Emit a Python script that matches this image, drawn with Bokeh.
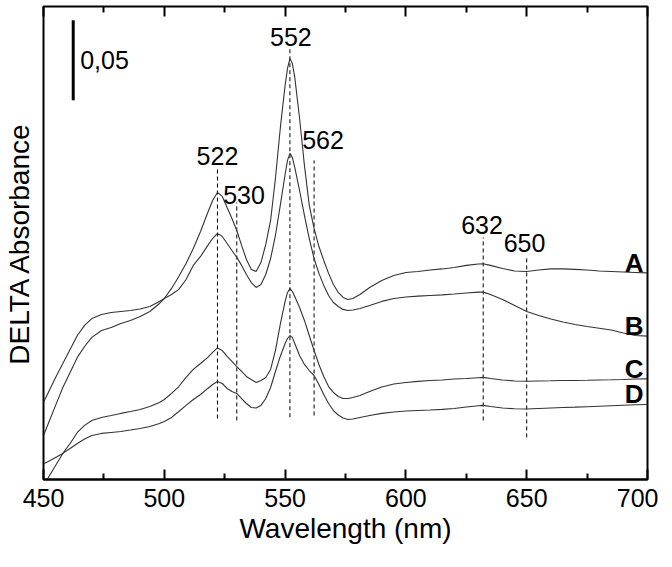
from bokeh.plotting import figure
from bokeh.models import Range1d, LinearAxis, FixedTicker
from bokeh.embed import file_html
from bokeh.resources import INLINE
from bokeh.core.properties import value

FONT = "Liberation Sans"

# Wavelength (nm)
wavelength = [450, 452, 455, 458, 461, 464, 467, 470, 474, 478,
              482, 486, 490, 494, 498, 500, 503, 506, 509, 512,
              515, 518, 520, 522, 524, 526, 528, 530, 532, 534,
              536, 538, 540, 542, 544, 546, 548, 550, 551, 552,
              553, 554, 556, 558, 560, 562, 564, 566, 568, 570,
              572, 574, 576, 578, 581, 585, 590, 595, 600, 605,
              610, 615, 620, 625, 630, 632, 635, 640, 645, 650,
              655, 660, 665, 670, 675, 680, 685, 690, 695, 700]

# DELTA absorbance, in milli-absorbance units (arbitrary baseline offsets)
curve_A = [27.5, 35.0, 46.3, 57.5, 66.9, 76.3, 83.1, 88.8, 93.1, 95.0,
           97.5, 99.4, 101.9, 105.0, 110.0, 113.1, 119.4, 126.9, 135.0, 144.4,
           155.0, 166.9, 174.4, 179.4, 176.9, 170.0, 163.1, 155.6, 146.3, 137.5,
           131.3, 130.0, 135.6, 146.9, 161.9, 188.1, 219.4, 246.3, 256.9, 263.1,
           260.0, 251.3, 225.6, 196.3, 171.3, 156.9, 145.6, 136.9, 128.8, 121.9,
           116.9, 113.8, 112.5, 113.1, 115.6, 120.0, 124.4, 127.5, 129.4, 130.0,
           130.9, 131.6, 132.5, 133.8, 134.7, 134.8, 133.8, 131.9, 130.3, 130.0,
           130.9, 131.6, 131.6, 131.3, 130.9, 130.3, 130.0, 129.7, 129.4, 129.1]

curve_B = [48.3, 54.4, 63.8, 72.5, 81.3, 90.0, 96.3, 100.6, 103.1, 104.4,
           105.0, 105.6, 106.6, 108.1, 111.3, 113.1, 115.6, 118.8, 125.0, 133.8,
           139.4, 146.3, 150.6, 153.8, 151.9, 147.5, 143.1, 138.8, 133.8, 128.1,
           123.1, 120.0, 121.9, 128.1, 138.1, 152.5, 171.3, 190.6, 199.4, 203.8,
           201.3, 195.0, 180.6, 165.0, 150.6, 138.1, 128.8, 121.3, 115.0, 110.6,
           108.1, 106.3, 105.6, 105.9, 106.9, 108.8, 111.3, 113.1, 114.1, 114.6,
           115.0, 115.4, 115.9, 116.6, 117.1, 117.1, 115.6, 112.5, 108.8, 105.0,
           102.5, 100.3, 98.4, 96.9, 95.6, 94.5, 93.4, 91.6, 90.0, 89.6]

curve_C = [-5.0, 1.3, 8.8, 16.3, 22.5, 29.4, 33.8, 36.9, 38.8, 40.0,
           41.3, 42.5, 43.8, 45.6, 48.1, 50.0, 53.8, 58.1, 63.8, 68.8,
           72.5, 76.3, 79.4, 82.2, 80.6, 76.9, 73.8, 70.6, 67.5, 64.4,
           62.5, 60.6, 61.9, 63.8, 68.8, 80.6, 96.9, 111.3, 116.9, 119.4,
           117.5, 114.4, 107.5, 99.4, 90.0, 80.6, 71.9, 64.4, 58.1, 54.4,
           51.9, 50.6, 50.6, 51.3, 52.5, 55.0, 57.8, 59.7, 60.6, 61.3,
           61.9, 62.2, 62.8, 63.1, 63.6, 63.8, 63.1, 62.2, 61.6, 61.4,
           61.6, 61.7, 61.9, 61.9, 62.0, 62.2, 62.3, 62.5, 62.8, 62.9]

curve_D = [9.8, 11.3, 13.8, 16.3, 19.4, 22.5, 25.3, 27.5, 28.8, 29.4,
           30.0, 30.9, 31.9, 33.1, 35.0, 36.3, 38.8, 42.5, 46.3, 50.0,
           53.1, 56.9, 59.4, 61.3, 60.0, 56.9, 55.0, 53.8, 50.6, 47.5,
           45.0, 44.7, 46.3, 50.6, 57.5, 67.5, 76.9, 85.0, 88.1, 90.0,
           88.8, 85.0, 77.5, 71.9, 68.1, 65.0, 59.4, 53.1, 47.5, 43.1,
           40.3, 38.4, 37.5, 37.8, 38.8, 40.0, 41.3, 42.2, 42.8, 43.1,
           43.4, 43.8, 44.4, 45.3, 46.1, 46.3, 45.6, 44.7, 44.2, 44.1,
           44.4, 44.7, 45.0, 45.2, 45.5, 45.8, 46.1, 46.4, 46.7, 46.9]

curve_names = ["A", "B", "C", "D"]

# x-axis ticks
x_major_ticks = [450, 500, 550, 600, 650, 700]
x_minor_ticks = [475, 525, 575, 625, 675]

# Marked band positions (nm) and their dashed guide extents
peak_nm = [522, 530, 552, 562, 632, 650]
peak_line_top = [195.0, 173.1, 270.0, 199.4, 151.3, 140.0]
peak_line_bottom = [38.1, 36.9, 38.9, 40.0, 36.9, 26.3]
peak_labels = ["522", "530", "552", "562", "632", "650"]
peak_label_x = [522, 533, 552.4, 565.7, 631.5, 649.1]
peak_label_y = [202.2, 178.1, 276.3, 211.9, 158.8, 147.5]

# Scale bar: 0.05 absorbance = 50 milli-absorbance
scale_bar_x = 462.3
scale_bar_bottom = 237.0
scale_bar_length = 50.0
scale_bar_label = "0,05"

p = figure(frame_width=604, frame_height=473, output_backend="svg",
           toolbar_location=None, x_range=Range1d(450, 700),
           y_range=Range1d(0, 295.6), min_border_left=41,
           min_border_right=11, min_border_top=6, min_border_bottom=72)
p.grid.visible = False
p.outline_line_color = "black"
p.outline_line_width = 2
p.background_fill_color = "white"
p.border_fill_color = "white"

# bottom axis
xa = p.xaxis[0]
xa.ticker = FixedTicker(ticks=x_major_ticks, minor_ticks=x_minor_ticks)
xa.major_tick_in = 10
xa.major_tick_out = 0
xa.minor_tick_in = 6
xa.minor_tick_out = 0
xa.axis_line_width = 2
xa.major_tick_line_width = 2
xa.minor_tick_line_width = 2
xa.major_label_text_font = FONT
xa.major_label_text_font_size = "25px"
xa.major_label_text_color = "black"
xa.major_label_standoff = 9
xa.axis_label = "Wavelength (nm)"
xa.axis_label_text_font = FONT
xa.axis_label_text_font_size = "28px"
xa.axis_label_text_font_style = "normal"
xa.axis_label_text_color = "black"
xa.axis_label_standoff = 3

# top mirrored ticks (drawn as label-free minor ticks)
for pos, length in ((x_major_ticks, 10), (x_minor_ticks, 6)):
    top = LinearAxis(ticker=FixedTicker(ticks=[], minor_ticks=pos))
    top.minor_tick_in = length
    top.minor_tick_out = 0
    top.major_tick_in = 0
    top.major_tick_out = 0
    top.minor_tick_line_width = 2
    top.minor_tick_line_color = "black"
    top.axis_line_color = None
    top.major_label_standoff = 0
    p.add_layout(top, "above")

# left axis: title only
ya = p.yaxis[0]
ya.ticker = FixedTicker(ticks=[])
ya.axis_line_color = None
ya.major_tick_line_color = None
ya.minor_tick_line_color = None
ya.major_tick_in = 0
ya.major_tick_out = 0
ya.minor_tick_in = 0
ya.minor_tick_out = 0
ya.major_label_standoff = 0
ya.axis_label = "DELTA Absorbance"
ya.axis_label_text_font = FONT
ya.axis_label_text_font_size = "28px"
ya.axis_label_text_font_style = "normal"
ya.axis_label_text_color = "black"
ya.axis_label_standoff = 9

# dashed guides
p.segment(x0=peak_nm, y0=peak_line_bottom, x1=peak_nm, y1=peak_line_top,
          line_color="black", line_width=1, line_dash="4 3")

# curves
for ys in (curve_A, curve_B, curve_C, curve_D):
    p.line(wavelength, ys, line_color="#333333", line_width=1.1)

# curve letters
ends = [curve_A[-1], curve_B[-1], curve_C[-1], curve_D[-1]]
p.text(x=[wavelength[-1]] * 4, y=ends, text=curve_names,
       text_font=value(FONT), text_font_size="26px", text_font_style="bold",
       text_align="right", text_baseline="middle", x_offset=-4, y_offset=-10,
       text_color="black")

# band labels
p.text(x=peak_label_x, y=peak_label_y, text=peak_labels,
       text_font=value(FONT), text_font_size="25px", text_align="center",
       text_baseline="middle", text_color="black")

# scale bar
p.segment(x0=[scale_bar_x], y0=[scale_bar_bottom], x1=[scale_bar_x],
          y1=[scale_bar_bottom + scale_bar_length], line_color="black", line_width=3)
p.text(x=[scale_bar_x], y=[scale_bar_bottom + scale_bar_length / 2],
       text=[scale_bar_label], text_font=value(FONT), text_font_size="25px",
       text_align="left", text_baseline="middle", x_offset=7, text_color="black")

open("out.html", "w").write(file_html(p, INLINE))
